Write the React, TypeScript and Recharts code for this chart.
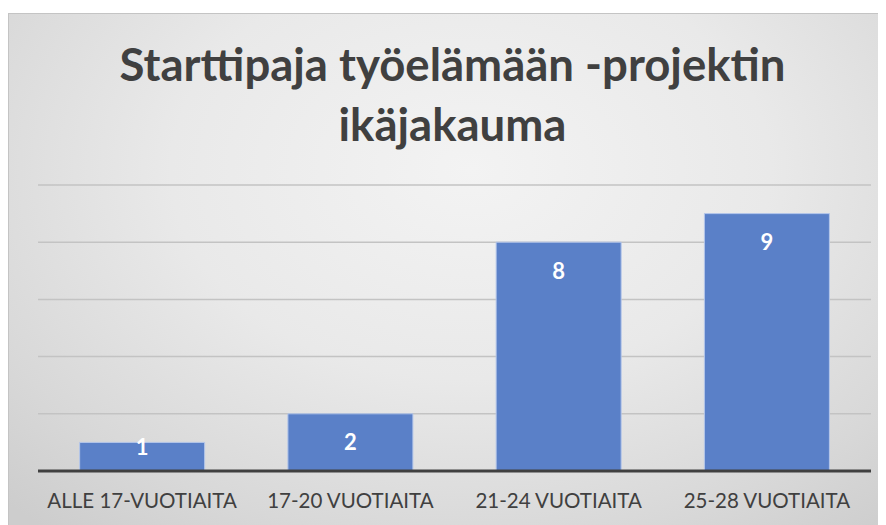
import React from "react";
import { BarChart, Bar, XAxis, YAxis, CartesianGrid, LabelList } from "recharts";

const categories = ["ALLE 17-VUOTIAITA", "17-20 VUOTIAITA", "21-24 VUOTIAITA", "25-28 VUOTIAITA"];
const values = [1, 2, 8, 9];
const yTicks = [0, 2, 4, 6, 8, 10];
const titleLines = ["Starttipaja työelämään -projektin", "ikäjakauma"];

const data = categories.map((c, i) => ({ name: c, value: values[i] }));

const W = 890;
const H = 520;

const renderLabel = (props: any) => {
  const { x, y, width, height, value } = props;
  const cy = height > 40 ? y + 28 : y + 4;
  return (
    <text
      x={x + width / 2}
      y={cy}
      textAnchor="middle"
      dominantBaseline="central"
      fill="#ffffff"
      fontFamily="Lato, 'Open Sans', sans-serif"
      fontWeight={700}
      fontSize={22}
    >
      {value}
    </text>
  );
};

export default function App() {
  return (
    <div style={{ paddingTop: 5 }}>
      <div
        style={{
          position: "relative",
          width: W,
          height: H,
          boxSizing: "border-box",
          border: "1.5px solid #c4c4c4",
          background:
            "radial-gradient(ellipse 75% 90% at 52% 30%, #f3f3f3 0%, #e9e9e9 45%, #d8d8d8 80%, #cdcdcd 100%)",
          overflow: "hidden",
        }}
      >
        <div
          style={{
            position: "absolute",
            left: -1.5,
            width: W,
            top: 20,
            textAlign: "center",
            fontFamily: "Lato, 'Open Sans', sans-serif",
            fontWeight: 700,
            fontSize: 45.5,
            lineHeight: "60px",
            color: "#404040",
          }}
        >
          <div>{titleLines[0]}</div>
          <div>{titleLines[1]}</div>
        </div>
        <div style={{ position: "absolute", left: -1.5, top: -1.5 }}>
          <BarChart
            width={W}
            height={H}
            data={data}
            margin={{ top: 172, right: 27, bottom: 18, left: 30 }}
            barCategoryGap="20%"
          >
            <CartesianGrid vertical={false} stroke="#c3c3c3" strokeWidth={1.5} />
            <YAxis hide domain={[0, 10]} ticks={yTicks} />
            <XAxis
              dataKey="name"
              height={44}
              axisLine={{ stroke: "#404040", strokeWidth: 3 }}
              tickLine={false}
              interval={0}
              tick={{ fill: "#404040", fontSize: 20.5, fontFamily: "Lato, 'Open Sans', sans-serif" }}
              tickMargin={16}
            />
            <Bar
              dataKey="value"
              fill="#5a80c8"
              stroke="#b4c6ea"
              strokeWidth={1}
              isAnimationActive={false}
            >
              <LabelList dataKey="value" content={renderLabel} />
            </Bar>
          </BarChart>
        </div>
      </div>
    </div>
  );
}
